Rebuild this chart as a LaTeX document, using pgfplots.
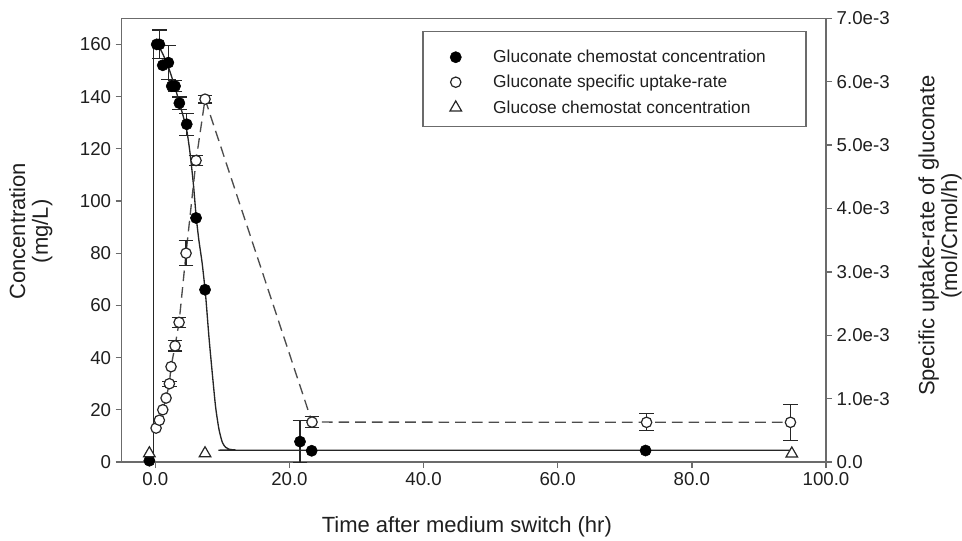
\documentclass[border=0pt]{standalone}
\usepackage{pgfplots}
\usepackage{pgfplotstable}
\pgfplotsset{compat=1.18}
\usepackage{fontspec}
\setmainfont{Liberation Sans}

\pgfplotstableread{
t c
-0.88 0.5
0.22 160
0.61 160
1.12 152
1.95 153
2.46 144
2.95 144
3.59 137.5
4.69 129.4
6.08 93.5
7.42 66
21.58 7.8
23.32 4.3
73.1 4.4
}\gluc

\pgfplotstableread{
t c e
0.61 160 5.5
1.95 153 6.6
2.95 144 2.2
3.59 137.5 2.3
4.69 129.4 4.2
21.58 7.8 8
}\glucerr

\pgfplotstableread{
t c
-0.88 3.3
7.42 3.3
94.9 3.2
}\glucose

\pgfplotstableread{
t r
0.12 0.000535
0.61 0.000659
1.12 0.000824
1.61 0.001009
2.10 0.001235
2.35 0.001503
2.95 0.001832
3.55 0.002203
4.59 0.003294
6.08 0.004756
7.42 0.005724
23.37 0.000630
73.25 0.000626
94.7 0.000626
}\uptake

\pgfplotstableread{
t r e
2.10 0.001235 0.00004
2.95 0.001832 0.00008
3.55 0.002203 0.00008
4.59 0.003294 0.00020
6.08 0.004756 0.00008
7.42 0.005724 0.00006
23.37 0.000630 0.000087
73.25 0.000626 0.000134
94.7 0.000626 0.000283
}\uptakeerr

\definecolor{axgray}{gray}{0.42}
\definecolor{txt}{gray}{0.12}

\pgfplotsset{
  common/.style={
    scale only axis, width=528.2pt, height=332.8pt,
    xmin=-5, xmax=100,
    tick align=outside, major tick length=4.5pt,
    axis line style={axgray, line width=1pt},
    every tick/.style={axgray, line width=1pt},
    tick label style={font=\fontsize{14}{16}\selectfont, text=txt},
    label style={font=\fontsize{16.5}{17}\selectfont, text=txt, align=center},
    /pgf/number format/assume math mode=true,
    clip=false,
  },
  errs/.style={draw=none, mark=none, forget plot,
    error bars/.cd, y dir=both, y explicit, error mark=|,
    error bar style={black!85, line width=0.9pt},
    error mark options={black!85, mark size=5.5pt, line width=0.9pt}},
  opencirc/.style={only marks, mark=*, mark size=3.9pt, line width=0.9pt,
    mark options={draw=black!85, fill=white}},
  opentri/.style={only marks, mark=triangle*, mark size=5pt, line width=0.9pt,
    mark options={draw=black!85, fill=white}},
  filledcirc/.style={only marks, mark=*, mark size=4.2pt, mark options={draw=black, fill=black}},
}

\begin{document}
\begin{tikzpicture}
\useasboundingbox (-91.3pt,-58.5pt) rectangle (630.2pt,346.5pt);
\begin{axis}[common,
  at={(0,0)}, anchor=south west,
  ymin=0, ymax=170,
  xtick={0,20,40,60,80,100},
  xticklabels={0.0,20.0,40.0,60.0,80.0,100.0},
  ytick={0,20,40,60,80,100,120,140,160},
  yticklabels={0,20,40,60,80,100,120,140,160},
  xtick pos=bottom, ytick pos=left,
  xlabel={Time after medium switch (hr)},
  ylabel={Concentration\\(mg/L)},
  xlabel style={at={(axis description cs:0.49,-0.1465)}, anchor=center},
  ylabel style={at={(axis description cs:-0.129,0.52)}, anchor=center},
]
% fitted curve
\addplot[black!85, line width=1pt, no marks] coordinates {(-0.3,0) (-0.3,160)};
\addplot[black!85, line width=1pt, no marks, smooth, tension=0.4] coordinates {
(-0.3,160) (0.3,160) (1,157) (2,151) (3,143) (4,134) (4.7,127) (5.2,118) (5.7,106)
(6.1,94) (6.5,85) (7,76) (7.5,64) (8,48) (8.5,34) (9,21) (9.5,12.5) (10,7.5)
(10.5,5.6) (11,4.9) (12,4.6) (14,4.5) (95,4.5)};
\addplot[errs] table[x=t, y=c, y error=e]{\glucerr};
\addplot[filledcirc] table[x=t,y=c]{\gluc};
\addplot[opentri] table[x=t,y=c]{\glucose};
\end{axis}

\begin{axis}[common,
  at={(0,0)}, anchor=south west,
  ymin=0, ymax=0.007,
  axis y line*=right, axis x line=none,
  scaled y ticks=false,
  ytick={0,0.001,0.002,0.003,0.004,0.005,0.006,0.007},
  yticklabels={0.0,1.0e-3,2.0e-3,3.0e-3,4.0e-3,5.0e-3,6.0e-3,7.0e-3},
  ylabel={Specific uptake-rate of gluconate\\(mol/Cmol/h)},
  ylabel style={at={(axis description cs:1.162,0.51)}, anchor=center},
  legend style={at={(axis description cs:0.4657,0.927)}, anchor=north west,
    draw=none, fill=none, inner sep=0pt, row sep=6.75pt, column sep=23.75pt,
    font=\fontsize{13}{15}\selectfont, text=txt,
    nodes={inner sep=0pt, text height=9pt, text depth=3pt},
    cells={anchor=base west}},
  legend image code/.code={\path[draw=none,fill=none] (-4pt,0.3pt) rectangle (4pt,8.3pt);
    \draw[#1] plot coordinates {(0pt,4.3pt)};},
]
\addlegendimage{filledcirc}
\addlegendentry{Gluconate chemostat concentration}
\addplot[black!70, line width=1pt, dash pattern=on 8pt off 4.5pt, no marks, forget plot]
  table[x=t,y=r]{\uptake};
\addplot[errs] table[x=t, y=r, y error=e]{\uptakeerr};
\addplot[opencirc] table[x=t,y=r]{\uptake};
\addlegendentry{Gluconate specific uptake-rate}
\addlegendimage{opentri}
\addlegendentry{Glucose chemostat concentration}
\draw[axgray, line width=1pt] (axis description cs:0.428,0.970) rectangle (axis description cs:0.9716,0.756);
\end{axis}
\end{tikzpicture}
\end{document}
